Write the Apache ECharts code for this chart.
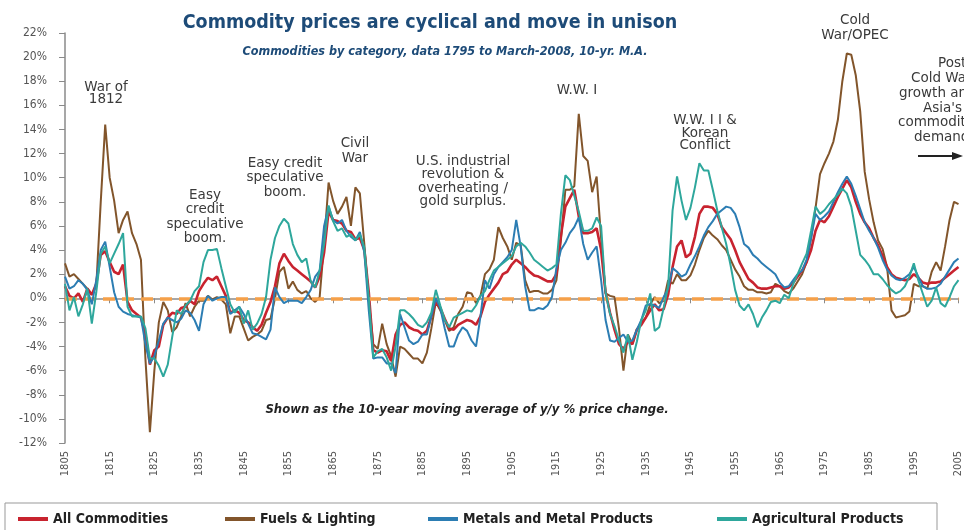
<!DOCTYPE html>
<html>
<head>
<meta charset="utf-8">
<script src="https://cdn.jsdelivr.net/npm/echarts@6/dist/echarts.min.js"></script>
<style>
  html, body { margin: 0; padding: 0; background: #fff; }
  #main { width: 964px; height: 530px; }
</style>
</head>
<body>
<div id="main"></div>
<script>
// 10-yr moving average of y/y % price change, one value per year 1805..2005
var firstYear = 1805;
var lastYear = 2005;
var yTicks = [-12, 22, 2];   // min, max, step (%)

var allCommodities = [
  1.0, 0.2, 0.0, 0.4, -0.3, 0.8, 0.3, 1.2, 3.6, 3.9,
  3.0, 2.2, 2.0, 2.8, -0.3, -1.0, -1.3, -1.6, -3.0, -5.5,
  -4.3, -4.0, -2.2, -1.6, -1.2, -1.3, -0.8, -0.7, -0.2, -0.5,
  0.6, 1.2, 1.7, 1.5, 1.8, 1.0, 0.2, -1.2, -1.0, -1.2,
  -1.8, -2.0, -2.4, -2.7, -2.2, -1.2, -0.3, 1.0, 2.9, 3.7,
  3.1, 2.6, 2.3, 2.0, 1.7, 1.4, 0.9, 1.8, 3.8, 7.2,
  6.5, 6.4, 6.2, 5.6, 5.5, 4.9, 5.0, 4.0, 0.5, -4.3,
  -4.5, -4.3, -4.4, -5.2, -3.0, -2.2, -2.0, -2.4, -2.6, -2.7,
  -3.0, -2.7, -1.5, -0.3, -0.8, -1.7, -2.5, -2.6, -2.2, -2.0,
  -1.8, -1.9, -2.2, -1.5, -0.3, 0.3, 0.8, 1.3, 2.0, 2.2,
  2.8, 3.2, 2.9, 2.6, 2.2, 1.9, 1.8, 1.6, 1.4, 1.4,
  2.0, 5.2, 7.6, 8.3, 9.0, 6.8, 5.4, 5.4, 5.5, 5.8,
  4.0, 0.5, -1.2, -2.6, -3.8, -4.2, -3.6, -3.8, -2.6, -2.2,
  -1.6, -1.0, -0.5, -1.0, -0.9, 0.3, 2.6, 4.3, 4.8, 3.4,
  3.7, 5.1, 7.0, 7.6, 7.6, 7.5, 7.0, 5.9, 5.4, 4.9,
  4.0, 3.0, 2.3, 1.6, 1.3, 0.9, 0.8, 0.8, 0.9, 1.0,
  1.0, 0.8, 0.9, 1.3, 1.8, 2.3, 3.0, 4.0, 5.6, 6.5,
  6.3, 6.8, 7.6, 8.4, 9.1, 9.8, 9.2, 8.0, 7.0, 6.3,
  5.8, 5.0, 4.4, 3.5, 2.6, 2.0, 1.7, 1.6, 1.5, 1.6,
  2.0, 1.7, 1.3, 1.2, 1.3, 1.3, 1.4, 1.7, 2.0, 2.3,
  2.6
];

var fuelsLighting = [
  2.9, 1.8, 2.0, 1.6, 1.2, 0.8, 0.3, 1.0, 8.0, 14.4,
  10.0, 8.1, 5.4, 6.5, 7.2, 5.4, 4.5, 3.2, -5.0, -11.1,
  -6.0, -2.0, -0.3, -1.0, -2.8, -2.4, -1.5, -0.4, -1.5, -0.7,
  -0.2, -0.2, 0.2, -0.1, 0.1, -0.1, -0.5, -2.9, -1.5, -1.5,
  -2.5, -3.5, -3.2, -3.0, -2.7, -1.8, -1.7, 0.0, 2.2, 2.6,
  0.8, 1.4, 0.7, 0.4, 0.6, 0.0, -0.3, 0.1, 4.5, 9.6,
  8.1, 7.0, 7.6, 8.4, 6.0, 9.2, 8.7, 4.5, -0.2, -3.8,
  -4.2, -2.1, -3.8, -4.8, -6.5, -4.0, -4.2, -4.6, -5.0, -5.0,
  -5.4, -4.5, -2.5, -0.3, -1.0, -1.8, -2.7, -2.4, -1.3, -0.7,
  0.5, 0.4, -0.4, 0.2, 2.0, 2.4, 3.2, 5.9, 5.0, 4.3,
  3.2, 4.6, 4.4, 1.5, 0.5, 0.6, 0.6, 0.4, 0.4, 0.7,
  1.5, 4.8, 9.0, 9.0, 9.3, 15.3, 11.8, 11.4, 8.8, 10.1,
  5.0, 0.4, 0.2, 0.1, -2.5, -6.0, -3.0, -3.8, -2.6, -2.0,
  -1.6, -0.5, 0.1, -0.4, -0.2, 1.5, 1.2, 2.0, 1.5, 1.5,
  1.9, 2.8, 4.0, 5.0, 5.6, 5.2, 4.9, 4.4, 4.0, 3.2,
  2.4, 1.8, 1.0, 0.7, 0.7, 0.5, 0.5, 0.4, 0.5, 1.2,
  1.0, 0.6, 0.4, 0.8, 1.4, 2.0, 3.0, 5.0, 7.5, 10.3,
  11.2, 12.0, 13.0, 14.8, 18.0, 20.3, 20.2, 18.5, 15.5, 10.5,
  8.2, 6.3, 4.8, 4.1, 2.6, -1.0, -1.6, -1.5, -1.4, -1.1,
  1.2, 1.0, 1.0, 0.8, 2.2, 3.0, 2.3, 4.3, 6.5, 8.0,
  7.8
];

var metals = [
  1.8, 0.8, 1.0, 1.5, 1.2, 0.7, -0.5, 1.5, 4.0, 4.7,
  2.6, 0.5, -0.7, -1.1, -1.3, -1.4, -1.5, -1.6, -3.8, -5.4,
  -4.8, -3.5, -2.1, -1.6, -1.8, -2.0, -1.7, -1.0, -1.2, -1.8,
  -2.7, -0.5, 0.2, -0.2, 0.0, 0.1, 0.1, -1.3, -1.0, -0.7,
  -1.3, -2.1, -2.9, -3.0, -3.2, -3.4, -2.6, 0.9, 0.1, -0.4,
  -0.2, -0.2, -0.2, -0.4, 0.1, 0.7, 1.8, 2.3, 6.0, 7.6,
  6.5, 6.2, 6.5, 5.6, 5.1, 4.8, 5.5, 3.8, -1.0, -5.0,
  -4.9, -4.9, -5.4, -5.4, -6.2, -1.3, -2.4, -3.5, -3.8, -3.6,
  -3.0, -3.0, -1.5, 0.0, -0.8, -2.5, -4.0, -4.0, -3.0, -2.4,
  -2.7, -3.5, -4.0, -1.5, 1.5, 0.8, 2.0, 2.6, 3.0, 3.4,
  4.0, 6.5, 4.3, 1.0, -1.0, -1.0, -0.8, -0.9, -0.6, 0.1,
  2.5, 4.0, 4.6, 5.4, 5.9, 6.7, 4.5, 3.2, 3.8, 4.3,
  1.5, -1.8, -3.5, -3.6, -3.3, -3.0, -3.6, -3.5, -2.6, -1.8,
  -0.6, -0.5, -0.6, -0.8, 0.1, 0.8, 2.5, 2.2, 1.8, 2.0,
  2.8, 3.5, 4.3, 5.2, 5.9, 6.4, 7.0, 7.3, 7.6, 7.5,
  7.0, 5.9, 4.5, 4.2, 3.6, 3.3, 2.9, 2.6, 2.3, 2.0,
  1.3, 0.9, 1.0, 1.5, 2.0, 2.3, 3.2, 5.0, 7.0, 6.5,
  6.8, 7.2, 8.0, 8.8, 9.5, 10.1, 9.5, 8.5, 7.4, 6.3,
  5.6, 5.0, 4.2, 3.2, 2.4, 1.9, 1.6, 1.5, 1.7, 2.0,
  2.6, 1.8, 1.0, 0.8, 0.8, 0.9, 1.2, 1.8, 2.4, 3.0,
  3.3
];

var agricultural = [
  1.2, -1.0, 0.1, -1.5, -0.5, 0.8, -2.1, 0.5, 3.7, 4.3,
  2.9, 3.7, 4.5, 5.4, -0.7, -1.5, -1.5, -1.5, -2.5, -5.0,
  -5.0, -5.6, -6.5, -5.5, -3.2, -1.0, -1.3, -0.6, -0.2, 0.6,
  1.0, 3.0, 4.0, 4.0, 4.1, 2.5, 1.0, -0.5, -1.2, -0.7,
  -2.1, -1.0, -2.6, -2.1, -1.3, 0.1, 3.2, 5.0, 6.0, 6.6,
  6.2, 4.5, 3.6, 3.0, 3.3, 1.4, 0.9, 2.3, 4.5, 7.7,
  6.4, 5.6, 5.8, 5.1, 5.3, 4.8, 5.3, 4.2, 0.0, -4.9,
  -4.4, -4.2, -4.9, -6.0, -4.0, -1.0, -1.0, -1.3, -1.7, -2.2,
  -2.4, -2.0, -1.2, 0.7, -0.6, -1.8, -2.4, -1.6, -1.4, -1.2,
  -1.0, -1.1, -0.6, 0.2, 0.6, 1.5, 2.3, 2.6, 2.9, 3.2,
  3.5, 4.3, 4.6, 4.3, 3.8, 3.2, 2.9, 2.6, 2.3, 2.5,
  2.8, 7.0, 10.2, 9.8, 8.5, 7.2, 5.6, 5.6, 5.8, 6.7,
  6.0, 0.5, -1.3, -2.3, -3.5, -4.5, -3.0, -5.1, -3.6, -1.8,
  -1.0, 0.4, -2.7, -2.4, -0.8, 1.0, 7.3, 10.1, 8.1, 6.5,
  7.5, 9.2, 11.2, 10.6, 10.6, 9.0, 7.3, 5.9, 4.5, 2.7,
  0.7, -0.6, -1.0, -0.5, -1.3, -2.4, -1.6, -1.0, -0.3, -0.2,
  -0.4, 0.3, 0.0, 1.2, 2.0, 2.9, 3.7, 5.6, 7.6, 7.0,
  7.3, 7.8, 8.2, 8.6, 9.1, 8.7, 7.6, 5.6, 3.6, 3.2,
  2.7, 2.0, 2.0, 1.6, 1.1, 0.7, 0.4, 0.6, 1.0, 1.8,
  2.9, 1.5, 0.4, -0.7, -0.2, 0.9, -0.4, -0.7, 0.1, 1.0,
  1.5
];

var seriesNames = ['All Commodities', 'Fuels & Lighting', 'Metals and Metal Products', 'Agricultural Products'];
var seriesColors = ['#c8232f', '#82552b', '#2c7db3', '#2ea79c'];

var years = [];
for (var yr = firstYear; yr <= lastYear; yr++) years.push(yr);

function pairs(values) {
  return years.map(function (y, i) { return [y, values[i]]; });
}

var cond = '"DejaVu Sans Condensed", "DejaVu Sans", sans-serif';
var plain = '"DejaVu Sans", sans-serif';
var blueText = '#1d4b78';
var noteColor = '#3a3a3a';

function note(txt, cx, y, lh) {
  return {
    type: 'text', x: cx, y: y, silent: true,
    style: {
      text: txt, fill: noteColor, font: '13.5px ' + plain,
      textAlign: 'center', textVerticalAlign: 'top', lineHeight: lh || 14
    }
  };
}
function noteLeft(txt, x, y) {
  return {
    type: 'text', x: x, y: y, silent: true,
    style: { text: txt, fill: noteColor, font: '13.5px ' + plain, textAlign: 'left', textVerticalAlign: 'middle' }
  };
}

var myChart = echarts.init(document.getElementById('main'));

var legendBase = {
  top: 507, itemWidth: 30, itemHeight: 4, icon: 'rect',
  textStyle: { fontFamily: cond, fontWeight: 'bold', fontSize: 14, color: '#222' }
};
var legendLefts = [13, 220, 423, 712];

var option = {
  backgroundColor: '#fff',
  animation: false,
  color: seriesColors,
  grid: { left: 65, right: 1, top: 33, bottom: 87 },
  legend: seriesNames.map(function (n, i) {
    return Object.assign({}, legendBase, { left: legendLefts[i], data: [n] });
  }),
  xAxis: {
    type: 'value',
    min: firstYear,
    max: lastYear,
    interval: 10,
    axisLine: { lineStyle: { color: '#8a8a8a', width: 1.5 } },
    axisTick: { show: true, length: 5, lineStyle: { color: '#8a8a8a' } },
    splitLine: { show: false },
    axisLabel: {
      rotate: 90, margin: 8, color: '#555', fontSize: 11, fontFamily: cond,
      showMaxLabel: true,
      formatter: function (v) { return String(v); }
    }
  },
  yAxis: {
    type: 'value',
    min: yTicks[0],
    max: yTicks[1],
    interval: yTicks[2],
    axisLine: { show: true, lineStyle: { color: '#8a8a8a', width: 1.5 } },
    axisTick: { show: true, length: 6, lineStyle: { color: '#8a8a8a' } },
    splitLine: { show: false },
    axisLabel: { color: '#555', fontSize: 12, fontFamily: cond, margin: 18, formatter: '{value}%' }
  },
  series: [
    { name: seriesNames[1], data: pairs(fuelsLighting), color: seriesColors[1] },
    { name: seriesNames[0], data: pairs(allCommodities), color: seriesColors[0], lineWidth: 2.6 },
    { name: seriesNames[2], data: pairs(metals), color: seriesColors[2] },
    { name: seriesNames[3], data: pairs(agricultural), color: seriesColors[3] }
  ].map(function (s, i) {
    var out = {
      name: s.name, type: 'line', data: s.data, showSymbol: false, symbol: 'none',
      clip: true, z: 3 + i,
      itemStyle: { color: s.color },
      lineStyle: { color: s.color, width: s.lineWidth || 2 }
    };
    if (i === 0) {
      out.markLine = {
        silent: true, symbol: ['none', 'none'], label: { show: false },
        emphasis: { disabled: true },
        lineStyle: { color: '#f5a049', type: [12, 7], width: 3.5, opacity: 1 },
        data: [{ yAxis: 0 }]
      };
    }
    return out;
  }),
  graphic: [
    {
      type: 'text', x: 430, y: 23, silent: true,
      style: { text: 'Commodity prices are cyclical and move in unison', fill: blueText,
        font: 'bold 19.5px ' + cond, textAlign: 'center', textVerticalAlign: 'middle' }
    },
    {
      type: 'text', x: 445, y: 52, silent: true,
      style: { text: 'Commodities by category, data 1795 to March-2008, 10-yr. M.A.', fill: blueText,
        font: 'italic bold 12.5px ' + cond, textAlign: 'center', textVerticalAlign: 'middle' }
    },
    note('War of\n1812', 106, 81, 12),
    note('Easy\ncredit\nspeculative\nboom.', 205, 188, 14.5),
    note('Easy credit\nspeculative\nboom.', 285, 156, 14.5),
    note('Civil\nWar', 355, 136, 15),
    note('U.S. industrial\nrevolution &\noverheating /\ngold surplus.', 463, 155, 13.3),
    note('W.W. I', 577, 83, 14),
    note('W.W. I I &\nKorean\nConflict', 705, 114, 12.7),
    note('Cold\nWar/OPEC', 855, 13, 15),
    noteLeft('Post', 938, 63),
    noteLeft('Cold War', 911, 78),
    noteLeft('growth and', 899, 93),
    noteLeft("Asia's", 923, 108),
    noteLeft('commodity', 898, 122),
    noteLeft('demand', 914, 137),
    {
      type: 'line', silent: true,
      shape: { x1: 918, y1: 156, x2: 955, y2: 156 },
      style: { stroke: '#222', lineWidth: 2 }
    },
    {
      type: 'polygon', silent: true,
      shape: { points: [[952, 152], [963, 156], [952, 160]] },
      style: { fill: '#222' }
    },
    {
      type: 'text', x: 467, y: 410, silent: true,
      style: { text: 'Shown as the 10-year moving average of y/y % price change.', fill: '#222',
        font: 'italic bold 13px ' + cond, textAlign: 'center', textVerticalAlign: 'middle' }
    },
    {
      type: 'rect', silent: true,
      shape: { x: 5, y: 503, width: 932, height: 40 },
      style: { fill: 'none', stroke: '#999', lineWidth: 1 }
    }
  ]
};

myChart.setOption(option);
window.onresize = function () {
  myChart.resize();
};
</script>
</body>
</html>
